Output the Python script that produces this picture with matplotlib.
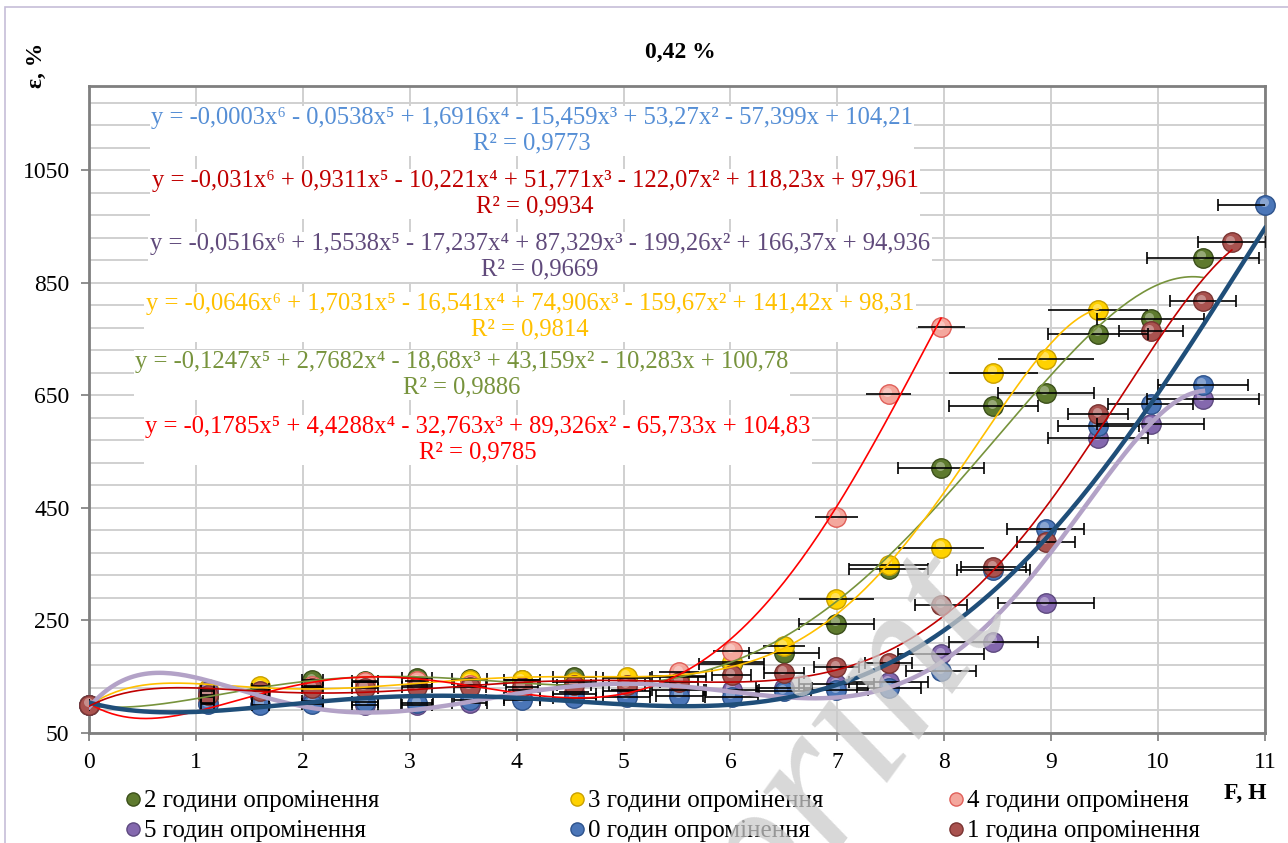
import numpy as np
import matplotlib
matplotlib.use("Agg")
import matplotlib.pyplot as plt
from matplotlib import transforms
from matplotlib.lines import Line2D
from matplotlib.patches import Rectangle

plt.rcParams['font.family'] = ['Liberation Serif', 'DejaVu Serif']

# --- data (F, H  vs  eps, %) ---
x_main = [0, 1.11, 1.6, 2.09, 2.58, 3.07, 3.56, 4.05, 4.54, 5.03, 5.52,
          6.01, 6.5, 6.99, 7.48, 7.97, 8.46, 8.95, 9.44, 9.93, 10.42]

# 0 годин
x0 = x_main + [11.0]
y0 = [100, 101, 100, 102, 105, 103, 108, 109, 112, 114, 116, 114, 124, 126, 130,
      160, 340, 413, 595, 635, 669, 989]
e0 = [0, 0.06, 0.08, 0.1, 0.12, 0.15, 0.15, 0.17, 0.2, 0.22, 0.22, 0.25, 0.25, 0.3,
      0.3, 0.33, 0.34, 0.36, 0.38, 0.4, 0.42, 0.44]

# 1 година
x1 = x_main + [10.69]
y1 = [100, 118, 124, 130, 130, 132, 132, 132, 135, 135, 141, 153, 157, 167, 175,
      277, 345, 390, 617, 764, 817, 922]
e1 = [0, 0.06, 0.08, 0.1, 0.12, 0.14, 0.15, 0.15, 0.16, 0.17, 0.18, 0.18, 0.19, 0.21,
      0.22, 0.24, 0.3, 0.27, 0.28, 0.3, 0.31, 0.32]

# 2 години
x2 = x_main
y2 = [100, 114, 128, 144, 143, 148, 146, 145, 150, 148, 150, 172, 193, 244, 342,
      521, 631, 655, 760, 785, 895]
e2 = [0, 0.06, 0.08, 0.1, 0.12, 0.14, 0.16, 0.17, 0.2, 0.22, 0.25, 0.3, 0.33, 0.35,
      0.37, 0.4, 0.42, 0.45, 0.47, 0.5, 0.52]

# 3 години
x3 = x_main[:19]
y3 = [100, 128, 133, 132, 141, 136, 144, 144, 141, 150, 152, 176, 204, 288, 349,
      379, 690, 715, 801]
e3 = [0, 0.06, 0.08, 0.1, 0.12, 0.14, 0.15, 0.17, 0.2, 0.22, 0.25, 0.3, 0.2, 0.35,
      0.37, 0.4, 0.42, 0.45, 0.47]

# 4 години
x4 = [0, 1.11, 1.6, 2.09, 2.58, 3.07, 3.56, 4.05, 4.54, 5.03, 5.52, 6.01, 6.99, 7.48, 7.97]
y4 = [100, 104, 120, 134, 140, 142, 136, 127, 122, 126, 158, 196, 434, 652, 771]
e4 = [0, 0.05, 0.06, 0.08, 0.1, 0.11, 0.12, 0.13, 0.14, 0.15, 0.19, 0.17, 0.2, 0.21, 0.22]

# 5 годин
x5 = x_main
y5 = [100, 125, 115, 106, 100, 100, 104, 112, 120, 125, 126, 127, 130, 137, 140,
      190, 212, 281, 575, 600, 644]
e5 = [0, 0.06, 0.08, 0.1, 0.12, 0.14, 0.16, 0.17, 0.2, 0.22, 0.25, 0.26, 0.26, 0.35,
      0.37, 0.4, 0.42, 0.45, 0.47, 0.5, 0.52]

labels = ['2 години опромінення', '3 години опромінення', '4 години опроміненя',
          '5 годин опромінення', '0 годин опромінення', '1 година опромінення']

equations = [
    ('y = -0,0003x⁶ - 0,0538x⁵ + 1,6916x⁴ - 15,459x³ + 53,27x² - 57,399x + 104,21\nR² = 0,9773', '#558ED5'),
    ('y = -0,031x⁶ + 0,9311x⁵ - 10,221x⁴ + 51,771x³ - 122,07x² + 118,23x + 97,961\nR² = 0,9934', '#C00000'),
    ('y = -0,0516x⁶ + 1,5538x⁵ - 17,237x⁴ + 87,329x³ - 199,26x² + 166,37x + 94,936\nR² = 0,9669', '#604A7B'),
    ('y = -0,0646x⁶ + 1,7031x⁵ - 16,541x⁴ + 74,906x³ - 159,67x² + 141,42x + 98,31\nR² = 0,9814', '#FFC000'),
    ('y = -0,1247x⁵ + 2,7682x⁴ - 18,68x³ + 43,159x² - 10,283x + 100,78\nR² = 0,9886', '#77933C'),
    ('y = -0,1785x⁵ + 4,4288x⁴ - 32,763x³ + 89,326x² - 65,733x + 104,83\nR² = 0,9785', '#FF0000'),
]
eq_pos = [(532, 131), (535, 194), (540, 257), (530, 317), (462, 375), (478, 440)]

# series: x, y, err, degree, marker colour, edge, trend colour, trend width, caps
series = [
    (x2, y2, e2, 5, '#5E7A2E', '#3B4F1A', '#77933C', 1.2, 4),
    (x3, y3, e3, 6, '#FFD200', '#C9A000', '#FFC000', 1.2, 0),
    (x4, y4, e4, 5, '#F4A79D', '#E0605A', '#FF0000', 1.2, 0),
    (x5, y5, e5, 6, '#8468AE', '#5E4A80', '#B3A2C7', 3.2, 4),
    (x0, y0, e0, 6, '#4B76B8', '#2E538C', '#1F4E79', 3.2, 4),
    (x1, y1, e1, 6, '#A9524F', '#7A3432', '#C00000', 1.2, 4),
]

W, H = 1288, 843
fig = plt.figure(figsize=(W / 100, H / 100), dpi=100)
ax = fig.add_axes([89 / W, 110 / H, (1265 - 89) / W, (733 - 86) / H])

ax.set_xlim(0, 11)
ax.set_ylim(50, 1200)
ax.set_xticks(range(12))
ax.set_yticks(range(50, 1051, 200))
ax.set_yticks(np.arange(50, 1201, 40), minor=True)
ax.grid(axis='y', which='both', color='#D0D0D0', lw=1.4)
ax.grid(axis='x', which='major', color='#D0D0D0', lw=1.4)
ax.set_axisbelow(True)
ax.tick_params(which='major', direction='out', length=6, width=1.3, color='#868686',
               labelsize=17, pad=8)
ax.tick_params(which='minor', length=0)
for s in ax.spines.values():
    s.set_color('#7F7F7F')
    s.set_linewidth(2)

hl = transforms.offset_copy(ax.transData, fig=fig, x=-1.5, y=2.5, units='dots')
handles = []
for x, y, e, deg, fc, ec, tc, tw, cap in series:
    ax.plot(x, y, 'o', ms=14, mfc=fc, mec=ec, mew=1, zorder=3, clip_on=False)
    ax.plot(x, y, 'o', ms=6.5, mfc='white', mec='none', alpha=0.35, zorder=3,
            transform=hl, clip_on=False)
    ax.errorbar(x, y, xerr=e, fmt='none', ecolor='black', elinewidth=1.2,
                capsize=cap, capthick=1.2, zorder=4)
    coef = np.polyfit(x, y, deg)
    xs = np.linspace(min(x), max(x), 300)
    ax.plot(xs, np.polyval(coef, xs), color=tc, lw=tw, zorder=5)
    handles.append(Line2D([], [], marker='o', ls='none', ms=9.5, mfc=fc, mec=ec))

for (txt, col), (px, py) in zip(equations, eq_pos):
    fig.text(px / W, 1 - py / H, txt, color=col, fontsize=17.7, ha='center', va='center',
             multialignment='center', linespacing=1.2, zorder=6,
             bbox=dict(facecolor='white', edgecolor='none', pad=1))

# legend: three columns, two rows
cols_x = [125, 569, 948]
for i, cx in enumerate(cols_x):
    fig.legend([handles[i], handles[i + 3]], [labels[i], labels[i + 3]],
               loc='upper left', bbox_to_anchor=(cx / W, 1 - 790 / H),
               frameon=False, fontsize=18, handlelength=0.6, handletextpad=0.15,
               labelspacing=0.3, borderpad=0, borderaxespad=0)

fig.text(680 / W, 1 - 52 / H, '0,42 %', fontsize=17, fontweight='bold', ha='center', va='center')
fig.text(36 / W, 1 - 65 / H, 'ε, %', fontsize=17, fontweight='bold', rotation=90,
         ha='center', va='center')
fig.text(1245 / W, 1 - 793 / H, 'F, H', fontsize=17, fontweight='bold', ha='center', va='center')

# watermark
fig.text(765 / W, 1 - 868 / H, 'Preprint', fontsize=150, style='italic', color='#CBCBCB',
         alpha=0.75, rotation=54, ha='center', va='center', rotation_mode='anchor', zorder=10)

fig.patches.append(Rectangle((5 / W, -0.1), 1.2, 1.1 - 7 / H, transform=fig.transFigure,
                             fill=False, edgecolor='#C6BDD8', lw=1.2))

fig.savefig('out.png', dpi=100)
